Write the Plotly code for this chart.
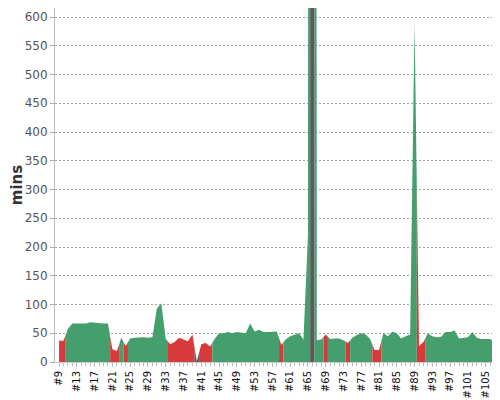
import plotly.graph_objects as go

# build numbers #9 .. #108
builds = list(range(9, 109))

# build duration in minutes
minutes = [
    37, 37, 58, 67, 67, 67, 67, 69, 69, 68,      # 9-18
    67, 67, 22, 19, 42, 28, 41, 42, 43, 43,      # 19-28
    42, 43, 93, 102, 40, 31, 35, 42, 39, 36,     # 29-38
    48, 1, 31, 33, 27, 40, 50, 50, 52, 50,       # 39-48
    52, 51, 50, 67, 53, 56, 52, 52, 52, 53,      # 49-58
    30, 39, 45, 47, 50, 39, 220, 10000, 38, 39,  # 59-68
    48, 40, 41, 41, 38, 33, 42, 47, 50, 48,      # 69-78
    40, 21, 21, 50, 45, 53, 50, 41, 45, 48,      # 79-88
    590, 28, 35, 50, 45, 43, 44, 52, 52, 55,     # 89-98
    41, 42, 43, 52, 42, 40, 40, 40, 34, 32,      # 99-108
]

# S = success, F = failure, A = aborted
status = (
    "FFSSSSSSSS"
    "SSFFSFSSSS"
    "SSSSSFFFFF"
    "FAFFFSSSSS"
    "SSSSSSSSSS"
    "FSSSSSSASS"
    "FSSSSFSSSS"
    "SFFSSSSSSS"
    "SFFSSSSSSS"
    "SSSSSSSSFF"
)

colors = {"S": "#449f6c", "F": "#d73a3a", "A": "#5a5a5a"}
tick_builds = list(range(9, 106, 4))
tick_labels = ["#%d" % b for b in tick_builds]

fig = go.Figure()

# one filled area per run of builds with the same result,
# colour switching half way between two builds
n = len(builds)
i = 0
while i < n:
    j = i
    while j + 1 < n and status[j + 1] == status[i]:
        j += 1
    xs, ys = [], []
    if i == 0:
        xs.append(builds[0]); ys.append(minutes[0])
    else:
        xs.append(builds[i] - 0.5); ys.append((minutes[i - 1] + minutes[i]) / 2)
    for k in range(i, j + 1):
        xs.append(builds[k]); ys.append(minutes[k])
    if j < n - 1:
        xs.append(builds[j] + 0.5); ys.append((minutes[j] + minutes[j + 1]) / 2)
    fig.add_trace(go.Scatter(
        x=xs, y=ys, mode="lines", fill="tozeroy",
        line=dict(width=0, color=colors[status[i]]),
        fillcolor=colors[status[i]],
        hoverinfo="skip", showlegend=False,
    ))
    i = j + 1

# the page puts the figure 8px in from the top-left corner
fig.update_layout(
    width=492, height=392,
    margin=dict(l=47, r=1, t=0, b=38),
    paper_bgcolor="white", plot_bgcolor="white",
    font=dict(family="DejaVu Sans", size=12, color="#444"),
    showlegend=False,
)
fig.update_xaxes(
    range=[8.08, 108], tickmode="array", tickvals=tick_builds, ticktext=tick_labels,
    tickangle=-90, tickfont=dict(size=10, color="#111"),
    ticks="outside", ticklen=4, tickcolor="#bbb",
    minor=dict(dtick=1, tick0=9, ticks="outside", ticklen=3, tickcolor="#bbb", showgrid=False),
    showgrid=False, showline=True, linecolor="#ccc", zeroline=False, automargin=False,
)
fig.update_yaxes(
    range=[0, 615.7], tick0=0, dtick=50,
    tickfont=dict(size=12, color="#555"),
    ticks="outside", ticklen=4, tickcolor="#aaa",
    showgrid=True, gridcolor="#a0a0a0", griddash="2px,2px", gridwidth=0.8,
    showline=True, linecolor="#bbb", zeroline=False, automargin=False,
    title=dict(text="<b>mins</b>", font=dict(size=15, color="#333"), standoff=5),
)

fig.write_html("out.html")
